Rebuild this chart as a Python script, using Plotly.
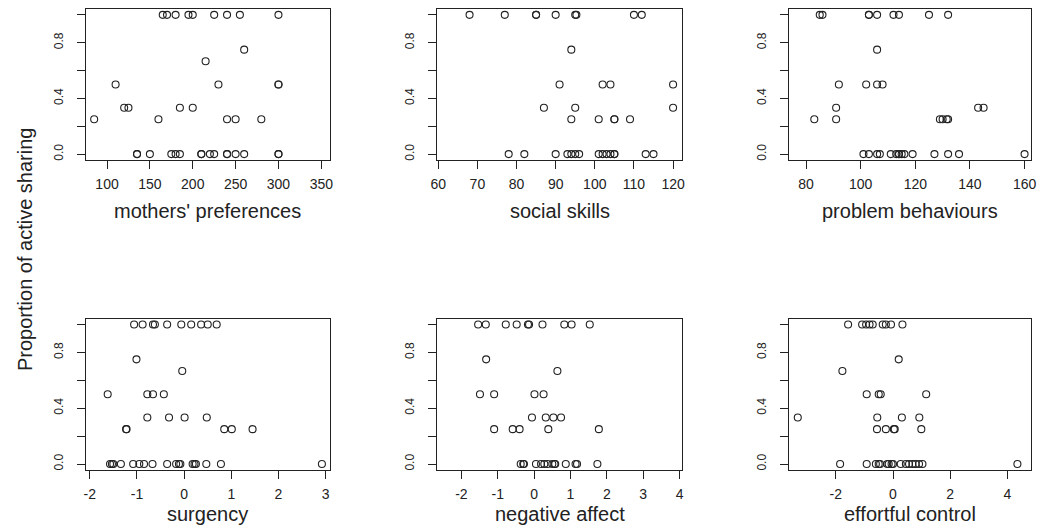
import plotly.graph_objects as go

W, H = 1042, 528

# ---------------- data ----------------
y_label = "Proportion of active sharing"

mothers_x = [165, 170, 180, 195, 200, 225, 240, 255, 300,
             260, 215,
             110, 230, 300, 300,
             120, 125, 185, 200,
             85, 160, 240, 250, 280,
             135, 135, 150, 175, 180, 185, 210, 210, 220, 225, 240, 240, 250, 260, 300, 300]
mothers_y = [1, 1, 1, 1, 1, 1, 1, 1, 1,
             0.75, 0.667,
             0.5, 0.5, 0.5, 0.5,
             0.333, 0.333, 0.333, 0.333,
             0.25, 0.25, 0.25, 0.25, 0.25,
             0, 0, 0, 0, 0, 0, 0, 0, 0, 0, 0, 0, 0, 0, 0, 0]

social_x = [68, 77, 85, 85, 90, 95, 95.3, 110, 112,
            94,
            91, 102, 104, 120,
            87, 95, 120,
            94, 101, 105, 105, 109,
            78, 82, 90, 93, 94, 95, 96, 101, 102, 103, 104, 105, 105, 113, 115]
social_y = [1, 1, 1, 1, 1, 1, 1, 1, 1,
            0.75,
            0.5, 0.5, 0.5, 0.5,
            0.333, 0.333, 0.333,
            0.25, 0.25, 0.25, 0.25, 0.25,
            0, 0, 0, 0, 0, 0, 0, 0, 0, 0, 0, 0, 0, 0, 0]

problem_x = [85, 86, 103, 103, 106, 112, 114, 125, 132,
             106,
             92, 102, 106, 108,
             91, 143, 145,
             83, 91, 129, 130, 131.5, 132,
             101, 103, 106, 107, 111, 113, 114, 114, 115, 116, 119, 127, 132, 136, 160]
problem_y = [1, 1, 1, 1, 1, 1, 1, 1, 1,
             0.75,
             0.5, 0.5, 0.5, 0.5,
             0.333, 0.333, 0.333,
             0.25, 0.25, 0.25, 0.25, 0.25, 0.25,
             0, 0, 0, 0, 0, 0, 0, 0, 0, 0, 0, 0, 0, 0, 0]

surgency_x = [-1.06, -0.88, -0.66, -0.62, -0.36, -0.06, 0.15, 0.36, 0.50, 0.69,
              -1.01,
              -0.04,
              -1.62, -0.78, -0.66, -0.43,
              -0.78, -0.32, 0.01, 0.48,
              -1.23, -1.22, 0.85, 1.01, 1.45,
              -1.57, -1.53, -1.50, -1.34, -1.08, -0.95, -0.85, -0.67, -0.36, -0.17,
              -0.11, -0.08, 0.18, 0.25, 0.22, 0.47, 0.78, 2.92]
surgency_y = [1, 1, 1, 1, 1, 1, 1, 1, 1, 1,
              0.75,
              0.667,
              0.5, 0.5, 0.5, 0.5,
              0.333, 0.333, 0.333, 0.333,
              0.25, 0.25, 0.25, 0.25, 0.25,
              0, 0, 0, 0, 0, 0, 0, 0, 0, 0,
              0, 0, 0, 0, 0, 0, 0, 0]

negaff_x = [-1.54, -1.33, -0.78, -0.48, -0.17, -0.14, 0.23, 0.83, 1.03, 1.53,
            -1.32,
            0.64,
            -1.49, -1.10, 0.01, 0.26,
            -0.06, 0.32, 0.53, 0.74,
            -1.10, -0.59, -0.40, 0.39, 1.78,
            -0.37, -0.30, -0.28, 0.05, 0.19, 0.28, 0.37, 0.50, 0.56, 0.58,
            0.87, 1.14, 1.18, 1.74]
negaff_y = [1, 1, 1, 1, 1, 1, 1, 1, 1, 1,
            0.75,
            0.667,
            0.5, 0.5, 0.5, 0.5,
            0.333, 0.333, 0.333, 0.333,
            0.25, 0.25, 0.25, 0.25, 0.25,
            0, 0, 0, 0, 0, 0, 0, 0, 0, 0,
            0, 0, 0, 0]

effort_x = [-1.57, -1.08, -0.94, -0.82, -0.71, -0.36, -0.25, -0.07, 0.33,
            0.20,
            -1.77,
            -0.92, -0.50, -0.43, 1.16,
            -3.33, -0.55, 0.31, 0.92,
            -0.56, -0.25, 0.03, 0.06, 0.99,
            -1.85, -0.92, -0.60, -0.50, -0.45, -0.20, -0.15, -0.05, 0.00, 0.27,
            0.45, 0.56, 0.68, 0.79, 0.91, 1.03, 4.35]
effort_y = [1, 1, 1, 1, 1, 1, 1, 1, 1,
            0.75,
            0.667,
            0.5, 0.5, 0.5, 0.5,
            0.333, 0.333, 0.333, 0.333,
            0.25, 0.25, 0.25, 0.25, 0.25,
            0, 0, 0, 0, 0, 0, 0, 0, 0, 0,
            0, 0, 0, 0, 0, 0, 0]

panels = [
    ("mothers' preferences", mothers_x, mothers_y, [74.9, 360.6], [100, 150, 200, 250, 300, 350]),
    ("social skills", social_x, social_y, [59.7, 122.4], [60, 70, 80, 90, 100, 110, 120]),
    ("problem behaviours", problem_x, problem_y, [73.6, 162.2], [80, 100, 120, 140, 160]),
    ("surgency", surgency_x, surgency_y, [-2.09, 3.10], [-2, -1, 0, 1, 2, 3]),
    ("negative affect", negaff_x, negaff_y, [-2.67, 4.08], [-2, -1, 0, 1, 2, 3, 4]),
    ("effortful control", effort_x, effort_y, [-3.65, 4.81], [-2, 0, 2, 4]),
]

y_ticks = [0, 0.2, 0.4, 0.6, 0.8, 1.0]
y_ticktext = ["0.0", "", "0.4", "", "0.8", ""]

# ---------------- layout geometry (pixels) ----------------
col_px = [(79.5, 327.5), (435.5, 684.0), (791.5, 1036.5)]
row_px = [(9.3, 160.0), (319.5, 470.5)]   # top, bottom
title_y_px = [211.5, 515.0]

FONT = "Liberation Sans, Arial, sans-serif"
INK = "#222222"

fig = go.Figure()
layout = dict(
    width=W, height=H,
    margin=dict(l=0, r=0, t=0, b=0),
    paper_bgcolor="white", plot_bgcolor="white",
    showlegend=False,
    font=dict(family=FONT, color=INK),
    annotations=[],
)

for i, (name, xs, ys, xr, xt) in enumerate(panels):
    r, c = divmod(i, 3)
    k = "" if i == 0 else str(i + 1)
    fig.add_trace(go.Scatter(
        x=xs, y=ys, mode="markers",
        xaxis="x" + k, yaxis="y" + k,
        marker=dict(symbol="circle-open", size=7, color=INK, line=dict(width=1.1, color=INK)),
        hoverinfo="x+y",
    ))
    x0, x1 = col_px[c]
    t, b = row_px[r]
    layout["xaxis" + k] = dict(
        domain=[x0 / W, x1 / W], range=xr, anchor="y" + k,
        tickmode="array", tickvals=xt, ticktext=[f"{v:g}" for v in xt],
        ticks="outside", ticklen=8, tickwidth=1, tickcolor=INK,
        showline=True, linecolor=INK, linewidth=1, mirror=True,
        showgrid=False, zeroline=False,
        tickfont=dict(size=14, color=INK, family=FONT),
        ticklabelstandoff=4,
    )
    layout["yaxis" + k] = dict(
        domain=[1 - b / H, 1 - t / H], range=[-0.04, 1.04], anchor="x" + k,
        tickmode="array", tickvals=y_ticks, ticktext=y_ticktext,
        ticks="outside", ticklen=8, tickwidth=1, tickcolor=INK,
        showline=True, linecolor=INK, linewidth=1, mirror=True,
        showgrid=False, zeroline=False, tickangle=-90,
        tickfont=dict(size=12, color=INK, family=FONT),
        ticklabelstandoff=9,
    )
    layout["annotations"].append(dict(
        text=name, xref="paper", yref="paper",
        x=((x0 + x1) / 2) / W, y=1 - title_y_px[r] / H,
        xanchor="center", yanchor="middle", showarrow=False,
        font=dict(size=20, color=INK, family=FONT),
    ))

layout["annotations"].append(dict(
    text=y_label, xref="paper", yref="paper",
    x=17.7 / W, y=1 - 250 / H, textangle=-90,
    xanchor="center", yanchor="middle", showarrow=False,
    font=dict(size=20, color=INK, family=FONT),
))

fig.update_layout(**layout)
fig.write_html(
    "out.html",
    config={"displayModeBar": False},
    post_script="document.body.style.margin='0';document.body.style.overflow='hidden';",
)
